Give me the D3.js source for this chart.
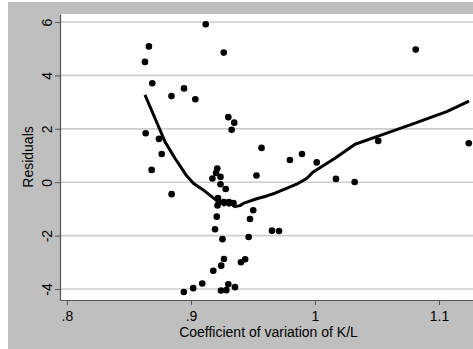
<!DOCTYPE html>
<html>
<head>
<meta charset="utf-8">
<script src="https://cdn.jsdelivr.net/npm/d3@7"></script>
<style>
html,body{margin:0;padding:0;background:#fff;}
svg{display:block;font-family:"Liberation Sans",Arial,sans-serif;}
</style>
</head>
<body>
<svg id="chart" width="473" height="349"></svg>
<script>
// Residual scatter points (coefficient of variation of K/L, residual)
const pointX = [0.8661,0.8629,0.8688,0.8843,0.8635,0.8742,0.8764,0.8683,0.8844,0.9119,
  0.9264,0.8944,0.9035,0.9301,0.9349,0.9328,0.9569,0.9798,0.9895,1.0014,
  1.0169,1.0320,1.0510,1.1240,1.0812,0.9212,0.9202,0.9173,0.9238,0.9238,
  0.9280,0.9528,0.9218,0.9226,0.9214,0.9266,0.9306,0.9343,0.9502,0.9476,
  0.9208,0.9194,0.9653,0.9710,0.9465,0.9254,0.9266,0.9437,0.9403,0.9244,
  0.9180,0.9091,0.9018,0.8942,0.9242,0.9285,0.9301,0.9355];
const pointY = [5.086,4.506,3.708,3.225,1.835,1.622,1.060,0.461,-0.446,5.918,
  4.854,3.513,3.109,2.438,2.232,1.966,1.285,0.835,1.060,0.742,
  0.124,0.011,1.547,1.461,4.966,0.517,0.348,0.142,0.199,-0.075,
  -0.251,0.255,-0.588,-0.738,-0.869,-0.738,-0.738,-0.775,-1.049,-1.375,
  -1.288,-1.760,-1.813,-1.824,-2.049,-2.131,-2.873,-2.884,-2.996,-3.124,
  -3.315,-3.790,-3.966,-4.109,-4.052,-4.041,-3.820,-3.929];
// Lowess smooth
const lowessX = [0.8629,0.8710,0.8790,0.8871,0.8960,0.9019,0.9099,0.9167,0.9207,0.9247,
  0.9266,0.9282,0.9306,0.9323,0.9355,0.9395,0.9422,0.9462,0.9530,0.9610,
  0.9677,0.9771,0.9852,0.9933,0.9986,1.0161,1.0323,1.0498,1.0790,1.1062,1.1242];
const lowessY = [3.270,2.397,1.521,0.899,0.273,-0.037,-0.288,-0.539,-0.682,-0.787,
  -0.850,-0.794,-0.861,-0.813,-0.914,-0.876,-0.794,-0.727,-0.618,-0.513,
  -0.412,-0.232,-0.075,0.142,0.386,0.899,1.423,1.708,2.184,2.644,3.034];
const xTicks = [0.8,0.9,1.0,1.1];
const xTickLabels = [".8",".9","1","1.1"];
const yTicks = [-4,-2,0,2,4,6];
const yTickLabels = ["-4","-2","0","2","4","6"];
const xTitle = "Coefficient of variation of K/L";
const yTitle = "Residuals";

const svg = d3.select("#chart");
const W = 473, H = 349;
const L = 60, R = 473, T = 14, B = 300;

svg.append("rect").attr("x",8).attr("y",2).attr("width",W-8).attr("height",H-2).attr("fill","#bfbfbf");
svg.append("rect").attr("x",L).attr("y",T).attr("width",R-L).attr("height",B-T).attr("fill","#fff");

const x = d3.scaleLinear().domain([0.7944,1.1274]).range([L,R]);
const y = d3.scaleLinear().domain([-4.41,6.3]).range([B,T]);

// gridlines
svg.append("g").selectAll("line").data(yTicks).join("line")
  .attr("x1",L).attr("x2",R).attr("y1",d=>y(d)).attr("y2",d=>y(d))
  .attr("stroke","#cdcdcd").attr("stroke-width",1.6);

// axes
const yAxis = d3.axisLeft(y).tickValues(yTicks).tickSize(5).tickSizeOuter(0)
  .tickFormat((d,i)=>yTickLabels[i]);
const gy = svg.append("g").attr("transform",`translate(${L},0)`).call(yAxis);
gy.select(".domain").attr("stroke","#555").attr("stroke-width",1.2);
gy.selectAll(".tick line").attr("stroke","#555");
gy.selectAll(".tick text").attr("font-size",14).attr("fill","#000")
  .attr("text-anchor","middle").attr("x",0).attr("dy",0)
  .attr("transform","translate(-8.5,0) rotate(-90)");

const xAxis = d3.axisBottom(x).tickValues(xTicks).tickSize(5).tickSizeOuter(0)
  .tickFormat((d,i)=>xTickLabels[i]);
const gx = svg.append("g").attr("transform",`translate(0,${B})`).call(xAxis);
gx.select(".domain").attr("stroke","#555").attr("stroke-width",1.2);
gx.selectAll(".tick line").attr("stroke","#555");
gx.selectAll(".tick text").attr("font-size",14).attr("fill","#000")
  .attr("y",20.5).attr("dy",0);

// titles
svg.append("text").attr("x",(L+R)/2+2).attr("y",336.5).attr("text-anchor","middle")
  .attr("font-size",14).attr("fill","#000").text(xTitle);
svg.append("text").attr("transform",`translate(33,${(T+B)/2}) rotate(-90)`).attr("text-anchor","middle")
  .attr("font-size",14).attr("fill","#000").text(yTitle);

// points
const pts = pointX.map((v,i)=>({x:v,y:pointY[i]}));
svg.append("g").selectAll("circle").data(pts).join("circle")
  .attr("cx",d=>x(d.x)).attr("cy",d=>y(d.y)).attr("r",3.3).attr("fill","#000");

// lowess line
const lw = lowessX.map((v,i)=>[v,lowessY[i]]);
svg.append("path").datum(lw)
  .attr("d",d3.line().x(d=>x(d[0])).y(d=>y(d[1])))
  .attr("fill","none").attr("stroke","#000").attr("stroke-width",3).attr("stroke-linejoin","round");
</script>
</body>
</html>
